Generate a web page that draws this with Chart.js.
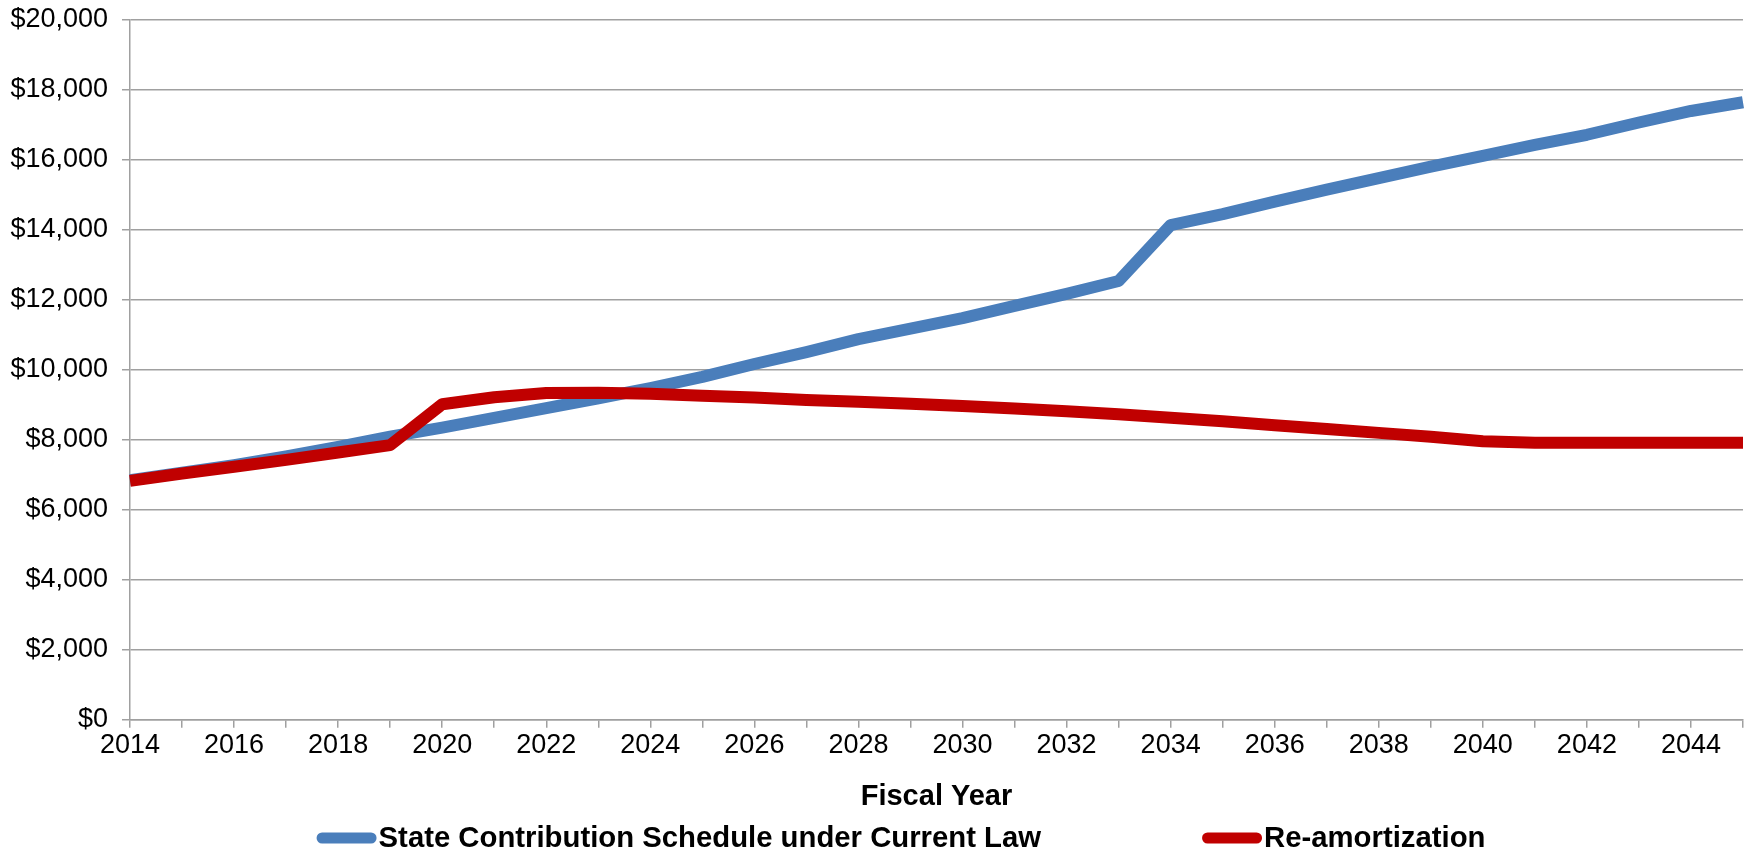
<!DOCTYPE html>
<html>
<head>
<meta charset="utf-8">
<script src="https://cdn.jsdelivr.net/npm/chart.js@4.4.1/dist/chart.umd.min.js"></script>
<style>
  html, body { margin: 0; padding: 0; background: #fff; }
  #wrap { width: 1752px; height: 855px; position: relative; }
</style>
</head>
<body>
<div id="wrap"><canvas id="chart"></canvas></div>
<script>
// Fiscal years on the x axis
const years = [
  "2014", "2015", "2016", "2017", "2018", "2019", "2020", "2021",
  "2022", "2023", "2024", "2025", "2026", "2027", "2028", "2029",
  "2030", "2031", "2032", "2033", "2034", "2035", "2036", "2037",
  "2038", "2039", "2040", "2041", "2042", "2043", "2044", "2045"
];

// State Contribution Schedule under Current Law ($ millions)
const currentLaw = [
  6850, 7060, 7280, 7530, 7800, 8090, 8350, 8630,
  8910, 9190, 9480, 9800, 10170, 10510, 10880, 11180,
  11480, 11830, 12170, 12540, 14140, 14450, 14810, 15150,
  15480, 15810, 16120, 16430, 16720, 17070, 17400, 17650
];

// Re-amortization ($ millions)
const reAmortization = [
  6830, 7040, 7230, 7430, 7640, 7850, 9020, 9220,
  9340, 9350, 9320, 9260, 9210, 9140, 9090, 9030,
  8970, 8900, 8820, 8730, 8630, 8530, 8420, 8310,
  8200, 8090, 7960, 7920, 7920, 7920, 7920, 7920
];

const seriesLabels = ["State Contribution Schedule under Current Law", "Re-amortization"];
const xTitle = "Fiscal Year";

const FONT = "'Liberation Sans', Arial, Helvetica, sans-serif";
const GRID = "#a0a0a0";

Chart.defaults.font.family = FONT;
Chart.defaults.color = "#000";

// excel style legend: short thick line, label right after it
const bottomLegend = {
  id: "bottomLegend",
  afterDraw(chart, args, opts) {
    const ctx = chart.ctx;
    ctx.save();
    ctx.font = opts.font;
    ctx.textBaseline = "middle";
    ctx.textAlign = "left";
    const items = chart.data.datasets.map(ds => ({
      text: ds.label,
      color: ds.borderColor,
      w: ctx.measureText(ds.label).width
    }));
    const total = items.reduce((s, it) => s + opts.lineLen + opts.textGap + it.w, 0)
      + opts.itemGap * (items.length - 1);
    let x = opts.centerX - total / 2;
    const y = opts.y;
    items.forEach(it => {
      ctx.strokeStyle = it.color;
      ctx.lineWidth = opts.lineWidth;
      ctx.lineCap = "round";
      ctx.beginPath();
      ctx.moveTo(x + opts.lineWidth / 2, y);
      ctx.lineTo(x + opts.lineLen - opts.lineWidth / 2, y);
      ctx.stroke();
      ctx.fillStyle = "#000";
      ctx.fillText(it.text, x + opts.lineLen + opts.textGap, y + 1);
      x += opts.lineLen + opts.textGap + it.w + opts.itemGap;
    });
    ctx.restore();
  }
};

new Chart(document.getElementById("chart"), {
  type: "line",
  data: {
    labels: years,
    datasets: [
      {
        label: seriesLabels[0],
        data: currentLaw,
        borderColor: "#4a7ebb",
        backgroundColor: "#4a7ebb",
        borderWidth: 12,
        pointRadius: 0,
        tension: 0,
        borderJoinStyle: "round",
        order: 1
      },
      {
        label: seriesLabels[1],
        data: reAmortization,
        borderColor: "#c00000",
        backgroundColor: "#c00000",
        borderWidth: 12,
        pointRadius: 0,
        tension: 0,
        borderJoinStyle: "round",
        order: 0
      }
    ]
  },
  options: {
    responsive: true,
    maintainAspectRatio: false,
    animation: false,
    layout: { padding: { top: 20, right: 9, left: 0, bottom: 39 } },
    plugins: {
      legend: { display: false },
      tooltip: { enabled: false },
      bottomLegend: {
        font: "bold 29.3px " + FONT,
        centerX: 901,
        y: 838,
        lineLen: 60,
        lineWidth: 11,
        textGap: 2,
        itemGap: 161
      }
    },
    scales: {
      x: {
        type: "category",
        offset: false,
        grid: {
          drawOnChartArea: false,
          drawTicks: true,
          tickLength: 8,
          color: GRID,
          lineWidth: 1.5
        },
        border: { display: true, color: GRID, width: 1.5 },
        ticks: {
          autoSkip: false,
          maxRotation: 0,
          padding: 2,
          font: { size: 27 },
          callback: function (val, idx) {
            const y = Number(this.getLabelForValue(val));
            return y % 2 === 0 ? String(y) : "";
          }
        },
        title: {
          display: true,
          text: xTitle,
          font: { size: 29, weight: "bold" },
          padding: { top: 15, bottom: 2 }
        }
      },
      y: {
        min: 0,
        max: 20000,
        afterFit: scale => {
          scale.width = 130;
          scale.paddingTop = 0;
        },
        grid: {
          color: GRID,
          lineWidth: 1.5,
          tickLength: 8
        },
        border: { display: true, color: GRID, width: 1.5 },
        ticks: {
          stepSize: 2000,
          padding: 14,
          font: { size: 27 },
          callback: v => "$" + v.toLocaleString("en-US")
        }
      }
    }
  },
  plugins: [bottomLegend]
});
</script>
</body>
</html>
